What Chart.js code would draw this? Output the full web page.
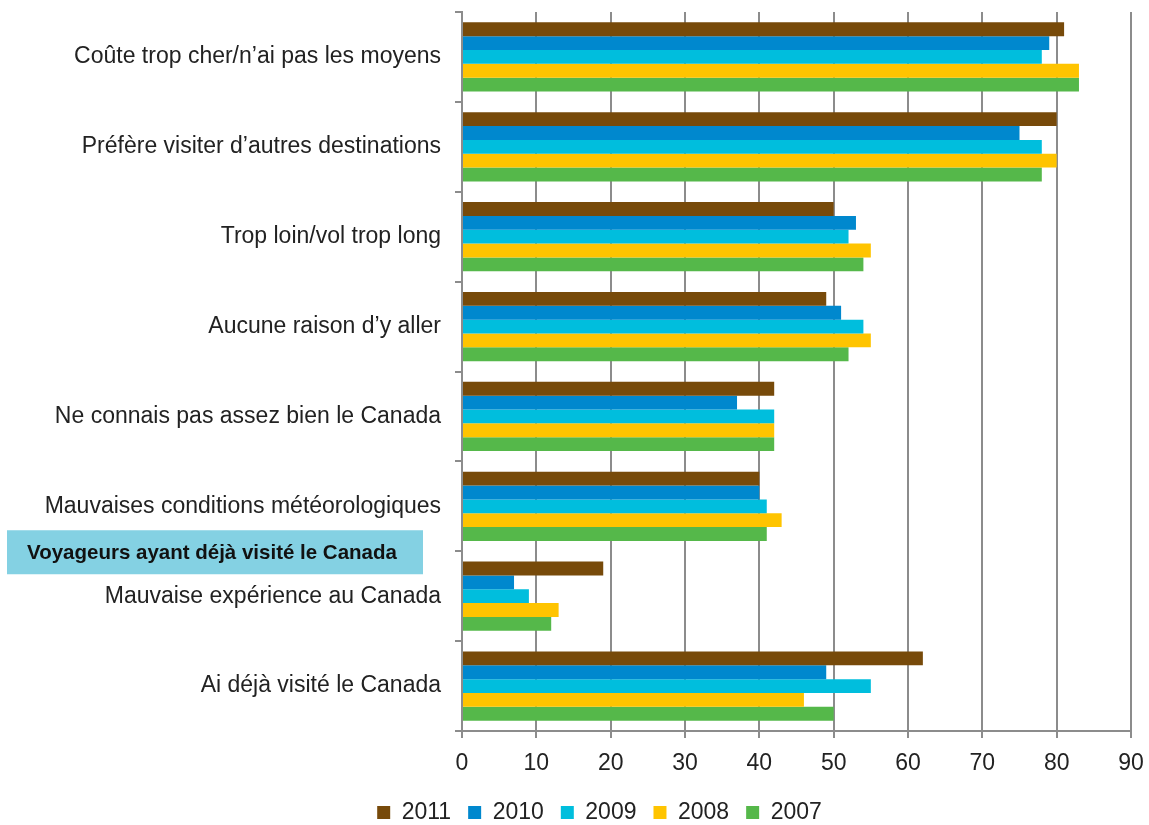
<!DOCTYPE html>
<html>
<head>
<meta charset="utf-8">
<script src="https://cdn.jsdelivr.net/npm/chart.js@4/dist/chart.umd.min.js"></script>
<style>
  html, body { margin: 0; padding: 0; background: #fff; }
  #wrap { width: 1149px; height: 825px; position: relative; }
</style>
</head>
<body>
<div id="wrap"><canvas id="barChart"></canvas></div>
<script>
// Raisons de ne pas visiter le Canada (%)
const categories = [
    'Coûte trop cher/n\u2019ai pas les moyens',
    'Préfère visiter d\u2019autres destinations',
    'Trop loin/vol trop long',
    'Aucune raison d\u2019y aller',
    'Ne connais pas assez bien le Canada',
    'Mauvaises conditions météorologiques',
    'Mauvaise expérience au Canada',
    'Ai déjà visité le Canada'
];
const years = ['2011', '2010', '2009', '2008', '2007'];
const values2011 = [81, 80, 50, 49, 42, 40, 19, 62];
const values2010 = [79, 75, 53, 51, 37, 40, 7, 49];
const values2009 = [78, 78, 52, 54, 42, 41, 9, 55];
const values2008 = [83, 80, 55, 55, 42, 43, 13, 46];
const values2007 = [83, 78, 54, 52, 42, 41, 12, 50];
const xTicks = [0, 10, 20, 30, 40, 50, 60, 70, 80, 90];
const boxLabel = 'Voyageurs ayant déjà visité le Canada';

const colors = ['#774A0A', '#0088CE', '#00BEDD', '#FFC400', '#55B84A'];
const series = [values2011, values2010, values2009, values2008, values2007];

const FONT = '"Liberation Sans", Arial, sans-serif';
const LEGEND_PAD = 17;

// Highlight box drawn at the boundary between the 6th and 7th categories
const boxPlugin = {
    id: 'boxLabel',
    afterDraw(chart) {
        const ctx = chart.ctx;
        const y = chart.scales.y.getPixelForValue(5.5);
        ctx.save();
        ctx.fillStyle = '#84D1E3';
        ctx.fillRect(7, y - 21, 416, 44);
        ctx.fillStyle = '#111';
        ctx.font = 'bold 20.5px ' + FONT;
        ctx.textBaseline = 'middle';
        ctx.fillText(boxLabel, 27, y + 2);
        ctx.restore();
    }
};

// Legend row sits a bit lower and to the right of the default spot
const legendShift = {
    id: 'legendShift',
    afterLayout(chart) {
        const lg = chart.legend;
        const dy = (813 - LEGEND_PAD - 12) - lg.top;
        lg.top += dy;
        lg.bottom += dy;
        lg.left += 34;
        lg.right += 34;
    }
};

new Chart(document.getElementById('barChart'), {
    type: 'bar',
    data: {
        labels: categories,
        datasets: years.map((year, i) => ({
            label: year,
            data: series[i],
            backgroundColor: colors[i],
            borderWidth: 0,
            categoryPercentage: 0.77,
            barPercentage: 1
        }))
    },
    options: {
        indexAxis: 'y',
        responsive: true,
        maintainAspectRatio: false,
        animation: false,
        layout: { padding: { left: 0, right: 18, top: 12, bottom: 0 } },
        plugins: {
            tooltip: { enabled: false },
            legend: {
                position: 'bottom',
                labels: {
                    boxWidth: 13,
                    boxHeight: 13,
                    padding: LEGEND_PAD,
                    color: '#222',
                    font: { family: FONT, size: 23 }
                }
            }
        },
        scales: {
            x: {
                min: 0,
                max: 90,
                afterBuildTicks(scale) {
                    scale.ticks = xTicks.map(v => ({ value: v }));
                },
                grid: {
                    color: '#8C8C8C',
                    lineWidth: 2,
                    tickLength: 7,
                    drawTicks: true
                },
                border: { color: '#8C8C8C', width: 2 },
                ticks: {
                    color: '#222',
                    padding: 12,
                    font: { family: FONT, size: 23 }
                },
                afterFit(scale) {
                    scale.height = 44;
                    scale.paddingLeft = 0;
                    scale.paddingRight = 0;
                }
            },
            y: {
                grid: {
                    offset: true,
                    drawOnChartArea: false,
                    color: '#8C8C8C',
                    lineWidth: 2,
                    tickLength: 7
                },
                border: { color: '#8C8C8C', width: 2 },
                ticks: {
                    color: '#222',
                    padding: 14,
                    font: { family: FONT, size: 23 }
                },
                afterFit(scale) {
                    scale.width = 462;
                    scale.paddingTop = 0;
                    scale.paddingBottom = 0;
                }
            }
        }
    },
    plugins: [boxPlugin, legendShift]
});
</script>
</body>
</html>
